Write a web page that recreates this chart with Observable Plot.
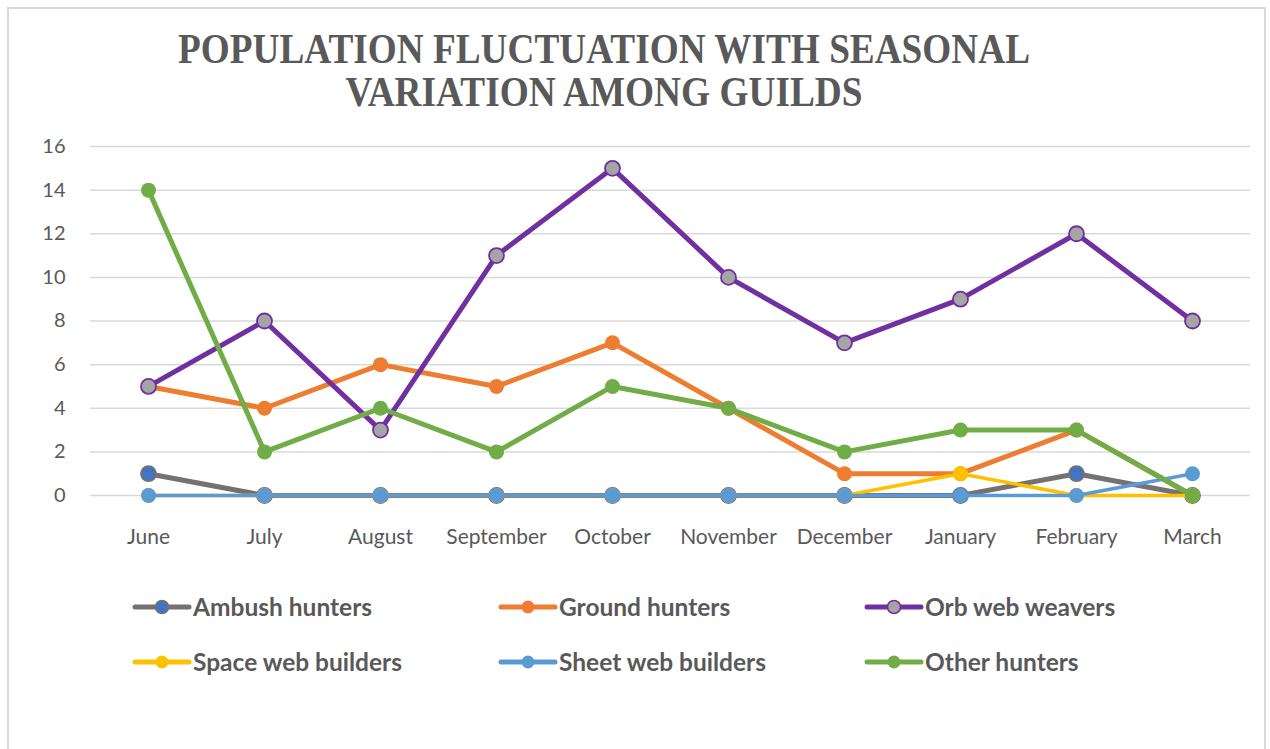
<!DOCTYPE html>
<html>
<head>
<meta charset="utf-8">
<script src="https://cdn.jsdelivr.net/npm/d3@7"></script>
<script src="https://cdn.jsdelivr.net/npm/@observablehq/plot@0.6"></script>
<style>
  html, body { margin: 0; padding: 0; background: #fff; overflow: hidden; }
  #wrap { position: relative; width: 1270px; height: 749px; overflow: hidden; }
  #frame { position: absolute; left: 7px; top: 7px; width: 1259px; height: 780px;
           border: 2px solid #d9d9d9; box-sizing: border-box; }
  #title, #chart, #legend { position: absolute; left: 0; }
  #title { top: 0; }
  #chart { top: 0; }
  #legend { top: 560px; }
</style>
</head>
<body>
<div id="wrap">
  <div id="frame"></div>
  <div id="chart"></div>
  <svg id="title" width="1270" height="130"></svg>
  <svg id="legend" width="1270" height="150"></svg>
</div>
<script>
// Months of the sampling year
const months = ["June", "July", "August", "September", "October", "November", "December", "January", "February", "March"];

// Individuals counted per guild each month
const ambushHunters    = [1, 0, 0, 0, 0, 0, 0, 0, 1, 0];
const groundHunters    = [5, 4, 6, 5, 7, 4, 1, 1, 3, 0];
const orbWebWeavers    = [5, 8, 3, 11, 15, 10, 7, 9, 12, 8];
const spaceWebBuilders = [0, 0, 0, 0, 0, 0, 0, 1, 0, 0];
const sheetWebBuilders = [0, 0, 0, 0, 0, 0, 0, 0, 0, 1];
const otherHunters     = [14, 2, 4, 2, 5, 4, 2, 3, 3, 0];

const yTicks = [0, 2, 4, 6, 8, 10, 12, 14, 16];

const titleLines = ["POPULATION FLUCTUATION WITH SEASONAL", "VARIATION AMONG GUILDS"];

// Series in drawing order, with their line and marker styling
const series = [
  {name: "Ambush hunters",     values: ambushHunters,    line: "#767171", fill: "#4472c4", ring: "#767171", width: 5},
  {name: "Ground hunters",     values: groundHunters,    line: "#ed7d31", fill: "#ed7d31", ring: "#ed7d31", width: 5},
  {name: "Orb web weavers",    values: orbWebWeavers,    line: "#7030a0", fill: "#a5a5a5", ring: "#7030a0", width: 5},
  {name: "Space web builders", values: spaceWebBuilders, line: "#ffc000", fill: "#ffc000", ring: "#ffc000", width: 3.5},
  {name: "Sheet web builders", values: sheetWebBuilders, line: "#5b9bd5", fill: "#5b9bd5", ring: "#5b9bd5", width: 3.5},
  {name: "Other hunters",      values: otherHunters,     line: "#70ad47", fill: "#70ad47", ring: "#70ad47", width: 5}
];

const textColor = "#595959";

const seriesMarks = series.flatMap(s => {
  const rows = months.map((m, i) => ({month: m, value: s.values[i]}));
  return [
    Plot.line(rows, {x: "month", y: "value", stroke: s.line, strokeWidth: s.width,
                     strokeLinejoin: "round", strokeLinecap: "round"}),
    Plot.dot(rows, {x: "month", y: "value", r: 7.5, fill: s.fill, stroke: s.ring,
                    strokeWidth: s.ring === s.fill ? 0 : 1.8})
  ];
});

const chart = Plot.plot({
  width: 1270,
  height: 560,
  marginTop: 146,
  marginBottom: 65,
  marginLeft: 90,
  marginRight: 20,
  style: {fontFamily: "Lato, sans-serif", fontSize: "20px", color: textColor, background: "transparent"},
  x: {type: "point", domain: months, padding: 0.5, label: null},
  y: {domain: [0, 16], label: null},
  marks: [
    Plot.gridY(yTicks, {stroke: "#d9d9d9", strokeOpacity: 1, strokeWidth: 1.5}),
    Plot.axisY(yTicks, {tickSize: 0, tickPadding: 25, fill: textColor, fontSize: 20, label: null}),
    Plot.axisX(months, {tickSize: 0, tickPadding: 34, fill: textColor, fontSize: 21, label: null}),
    ...seriesMarks
  ]
});
document.getElementById("chart").appendChild(chart);

// Title, two centred lines in a condensed bold serif
const title = d3.select("#title");
const titleWidths = [852, 517];
const titleBaselines = [63, 106];
titleLines.forEach((t, i) => {
  title.append("text")
    .attr("x", 604)
    .attr("y", titleBaselines[i])
    .attr("text-anchor", "middle")
    .attr("textLength", titleWidths[i])
    .attr("lengthAdjust", "spacingAndGlyphs")
    .attr("font-family", "'Liberation Serif', 'Times New Roman', serif")
    .attr("font-weight", "bold")
    .attr("font-size", 42)
    .attr("fill", textColor)
    .text(t);
});

// Legend: two rows of three entries below the plot
const legend = d3.select("#legend");
const colX = [135, 501, 867];
const rowY = [47, 102];
series.forEach((s, i) => {
  const x0 = colX[i % 3];
  const y0 = rowY[Math.floor(i / 3)];
  const g = legend.append("g");
  g.append("line")
    .attr("x1", x0).attr("x2", x0 + 54)
    .attr("y1", y0).attr("y2", y0)
    .attr("stroke", s.line).attr("stroke-width", 5).attr("stroke-linecap", "round");
  g.append("circle")
    .attr("cx", x0 + 27).attr("cy", y0).attr("r", 6.5)
    .attr("fill", s.fill)
    .attr("stroke", s.ring)
    .attr("stroke-width", s.ring === s.fill ? 0 : 1.6);
  g.append("text")
    .attr("x", x0 + 58).attr("y", y0)
    .attr("dy", "0.36em")
    .attr("font-family", "Lato, sans-serif")
    .attr("font-weight", "bold")
    .attr("font-size", 24.5)
    .attr("fill", textColor)
    .text(s.name);
});
</script>
</body>
</html>
